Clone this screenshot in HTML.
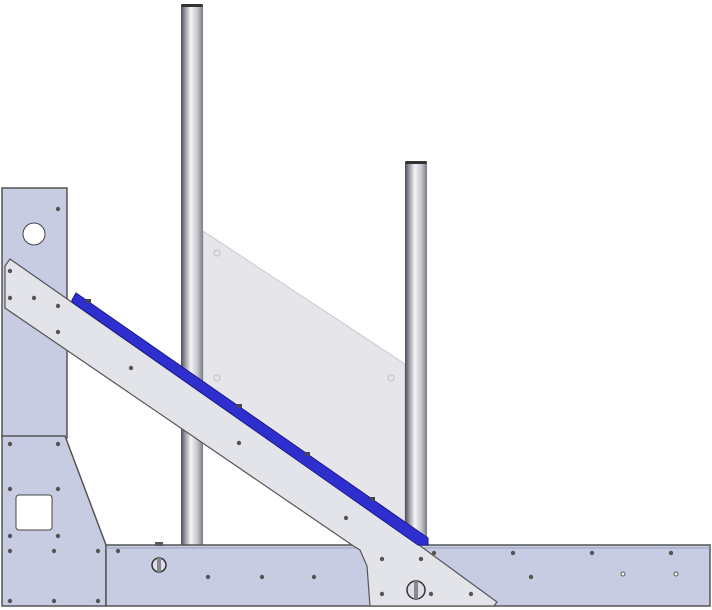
<!DOCTYPE html>
<html><head><meta charset="utf-8"><style>
html,body{margin:0;padding:0;background:#fff;width:712px;height:610px;overflow:hidden}
svg{display:block}
</style></head><body>
<svg width="712" height="610" viewBox="0 0 712 610" xmlns="http://www.w3.org/2000/svg">
<defs>
<linearGradient id="pole" x1="0" x2="1" y1="0" y2="0">
<stop offset="0" stop-color="#4a4a55"/><stop offset="0.15" stop-color="#8a8a95"/>
<stop offset="0.45" stop-color="#f4f4f8"/><stop offset="0.75" stop-color="#c4c4cc"/>
<stop offset="1" stop-color="#7a7a85"/></linearGradient>
</defs>
<polygon points="203,231 405,364 405,532 203,400" fill="#e5e5ea" stroke="#c8c8d0" stroke-width="1"/>
<circle cx="217" cy="253" r="3" fill="none" stroke="#c0c0c8"/><circle cx="217" cy="378" r="3" fill="none" stroke="#c0c0c8"/>
<circle cx="391" cy="378" r="3" fill="none" stroke="#c0c0c8"/>
<rect x="181" y="5" width="22" height="542" fill="url(#pole)"/>
<rect x="181" y="4" width="22" height="3" rx="1.5" fill="#333"/>
<rect x="405" y="162" width="22" height="385" fill="url(#pole)"/>
<rect x="405" y="161" width="22" height="3" rx="1.5" fill="#333"/>
<rect x="2" y="188" width="65" height="250" fill="#c7cce3" stroke="#555" stroke-width="1.5"/>
<circle cx="34" cy="234" r="11" fill="#fff" stroke="#444"/>
<circle cx="58" cy="209" r="2.2" fill="#555"/>
<polygon points="2,436 65,436 106,545 106,606 2,606" fill="#c7cce3" stroke="#555" stroke-width="1.5"/>
<rect x="16" y="495" width="36" height="35" rx="3" fill="#fff" stroke="#444"/>
<rect x="106" y="545" width="604" height="61" fill="#c7cce3" stroke="#555" stroke-width="1.5"/>
<line x1="106" y1="548" x2="710" y2="548" stroke="#9aa0b8"/>
<polygon points="5,266 10,259 419,545 497,602 494,606 370,606 367,566 360,550 352,545 5,308" fill="#e3e3ea" stroke="#555" stroke-width="1.2"/>
<polygon points="72,300 76,293 428,538 428,545 418,545 72,302" fill="#2f2fd0" stroke="#1a1a8a" stroke-width="1"/>
<rect x="86" y="299" width="5" height="4" fill="#445"/><rect x="237" y="404" width="5" height="4" fill="#445"/>
<rect x="305" y="452" width="5" height="4" fill="#445"/><rect x="370" y="497" width="5" height="4" fill="#445"/>
<g fill="#555">
<circle cx="10" cy="271" r="2.2"/><circle cx="10" cy="298" r="2.2"/><circle cx="34" cy="298" r="2.2"/>
<circle cx="58" cy="306" r="2.2"/><circle cx="58" cy="332" r="2.2"/><circle cx="131" cy="368" r="2.2"/>
<circle cx="239" cy="443" r="2.2"/><circle cx="346" cy="518" r="2.2"/>
<circle cx="10" cy="444" r="2.2"/><circle cx="58" cy="444" r="2.2"/>
<circle cx="10" cy="489" r="2.2"/><circle cx="58" cy="489" r="2.2"/>
<circle cx="10" cy="536" r="2.2"/><circle cx="58" cy="536" r="2.2"/>
<circle cx="10" cy="551" r="2.2"/><circle cx="54" cy="551" r="2.2"/><circle cx="98" cy="551" r="2.2"/>
<circle cx="118" cy="551" r="2.2"/><circle cx="10" cy="601" r="2.2"/><circle cx="54" cy="601" r="2.2"/><circle cx="98" cy="601" r="2.2"/>
<circle cx="208" cy="577" r="2.2"/><circle cx="262" cy="577" r="2.2"/><circle cx="314" cy="577" r="2.2"/>
<circle cx="382" cy="559" r="2.2"/><circle cx="421" cy="559" r="2.2"/>
<circle cx="382" cy="594" r="2.2"/><circle cx="431" cy="594" r="2.2"/><circle cx="471" cy="594" r="2.2"/>
<circle cx="434" cy="553" r="2.2"/><circle cx="513" cy="553" r="2.2"/><circle cx="592" cy="553" r="2.2"/><circle cx="671" cy="553" r="2.2"/>
<circle cx="531" cy="577" r="2.2"/>
</g>
<circle cx="623" cy="574" r="2" fill="#fff" stroke="#555"/><circle cx="676" cy="574" r="2" fill="#fff" stroke="#555"/>
<g>
<circle cx="159" cy="565" r="7" fill="#dde" stroke="#333" stroke-width="1.5"/><rect x="157" y="558" width="4" height="14" fill="#888"/></g>
<g>
<circle cx="416" cy="590" r="9" fill="#dde" stroke="#333" stroke-width="1.5"/><rect x="414" y="581" width="4" height="18" fill="#888"/></g>
<rect x="155" y="542" width="8" height="4" fill="#556"/>
</svg>
</body></html>
